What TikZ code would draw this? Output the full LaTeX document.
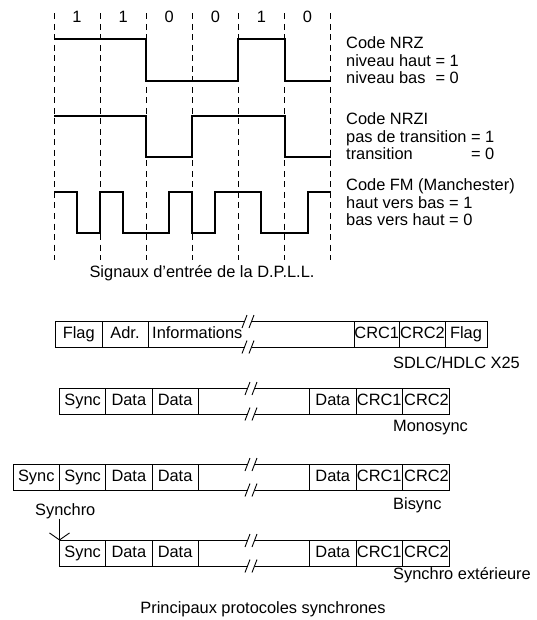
\documentclass[tikz,border=0pt]{standalone}
\usepackage{fontspec}
\setmainfont{Liberation Sans}
\usetikzlibrary{arrows.meta}
\begin{document}
\begin{tikzpicture}[x=1pt,y=-1pt,
  txt/.style={font=\fontsize{16.4}{17.5}\selectfont, inner sep=0pt, anchor=base west},
  ctxt/.style={txt, anchor=base},
  sig/.style={line width=2pt, line join=miter},
  dline/.style={line width=0.9pt, dash pattern=on 6pt off 4.5pt},
  frame/.style={line width=0.9pt},
  pics/brk/.style={code={\draw[frame] (-7,6.5) -- (-2,-6.5) (0,6.5) -- (5,-6.5);}}
]
\useasboundingbox (0,0) rectangle (536,620);

% ---------- timing diagram ----------
\foreach \x in {54,100.1,146.2,192.3,238.4,284.5,330.6}
  \draw[dline] (\x,13.5) -- (\x,260);

\node[ctxt] (b1) at (77.05,22.5) {1};
\node[ctxt] (b2) at (123.15,22.5) {1};
\node[ctxt] (b3) at (169.25,22.5) {0};
\node[ctxt] (b4) at (215.35,22.5) {0};
\node[ctxt] (b5) at (261.45,22.5) {1};
\node[ctxt] (b6) at (307.55,22.5) {0};

\draw[sig] (54,39.5) -- (146.2,39.5) -- (146.2,81) -- (238.4,81) -- (238.4,39.5)
  -- (284.5,39.5) -- (284.5,81) -- (330.6,81);
\draw[sig] (54,116) -- (146.2,116) -- (146.2,157) -- (192.3,157) -- (192.3,116)
  -- (284.5,116) -- (284.5,157) -- (330.6,157);
\draw[sig] (54,192.5) -- (77.05,192.5) -- (77.05,233) -- (100.1,233) -- (100.1,192.5)
  -- (123.15,192.5) -- (123.15,233) -- (169.25,233) -- (169.25,192.5) -- (192.3,192.5)
  -- (192.3,233) -- (215.35,233) -- (215.35,192.5) -- (261.45,192.5) -- (261.45,233)
  -- (307.55,233) -- (307.55,192.5) -- (330.6,192.5);

\node[txt] (nrz1) at (346,49) {Code NRZ};
\node[txt] (nrz2) at (346,66.5) {niveau haut = 1};
\node[txt] (nrz3) at (346,84) {\sbox0{niveau haut = 1}\hbox to \wd0{niveau bas\hfill= 0}};
\node[txt] (nrzi1) at (346,125) {Code NRZI};
\node[txt] (nrzi2) at (346,142.5) {pas de transition = 1};
\node[txt] (nrzi3) at (346,160) {\sbox0{pas de transition = 1}\hbox to \wd0{transition\hfill= 0}};
\node[txt] (fm1) at (346,190.5) {Code FM (Manchester)};
\node[txt] (fm2) at (346,208) {haut vers bas = 1};
\node[txt] (fm3) at (346,225.5) {bas vers haut = 0};

\node[ctxt] (cap1) at (202,277) {Signaux d'entrée de la D.P.L.L.};

% ---------- frame 1 : SDLC/HDLC ----------
\draw[frame] (244.5,321.5) -- (55.5,321.5) -- (55.5,347) -- (244.5,347);
\draw[frame] (251.5,321.5) -- (487,321.5) -- (487,347) -- (251.5,347);
\foreach \x in {102,148,354,399.5,445} \draw[frame] (\x,321.5) -- (\x,347);
\pic at (249,321.5) {brk};
\pic at (249,347) {brk};
\node[ctxt] (f1a) at (78.75,338) {Flag};
\node[ctxt] (f1b) at (125,338) {Adr.};
\node[txt]  (f1c) at (152,338) {Informations};
\node[ctxt] (f1d) at (376.75,338) {CRC1};
\node[ctxt] (f1e) at (422.5,338) {CRC2};
\node[ctxt] (f1f) at (466,338) {Flag};
\node[txt] (l1) at (393,368) {SDLC/HDLC X25};

% ---------- frame 2 : Monosync ----------
\draw[frame] (247.5,388.5) -- (59.5,388.5) -- (59.5,414) -- (247.5,414);
\draw[frame] (254.5,388.5) -- (449,388.5) -- (449,414) -- (254.5,414);
\foreach \x in {105.7,152,198.2,309.5,356,402.5} \draw[frame] (\x,388.5) -- (\x,414);
\pic at (252,388.5) {brk};
\pic at (252,414) {brk};
\node[ctxt] (f2a) at (82.6,405) {Sync};
\node[ctxt] (f2b) at (128.85,405) {Data};
\node[ctxt] (f2c) at (175.1,405) {Data};
\node[ctxt] (f2d) at (332.75,405) {Data};
\node[ctxt] (f2e) at (379.25,405) {CRC1};
\node[ctxt] (f2f) at (426.5,405) {CRC2};
\node[txt] (l2) at (393,431) {Monosync};

% ---------- frame 3 : Bisync ----------
\draw[frame] (247.5,464.5) -- (13,464.5) -- (13,490) -- (247.5,490);
\draw[frame] (254.5,464.5) -- (449,464.5) -- (449,490) -- (254.5,490);
\foreach \x in {59.5,105.7,152,198.2,309.5,356,402.5} \draw[frame] (\x,464.5) -- (\x,490);
\pic at (252,464.5) {brk};
\pic at (252,490) {brk};
\node[ctxt] (f3a) at (36.25,481) {Sync};
\node[ctxt] (f3b) at (82.6,481) {Sync};
\node[ctxt] (f3c) at (128.85,481) {Data};
\node[ctxt] (f3d) at (175.1,481) {Data};
\node[ctxt] (f3e) at (332.75,481) {Data};
\node[ctxt] (f3f) at (379.25,481) {CRC1};
\node[ctxt] (f3g) at (426.5,481) {CRC2};
\node[txt] (l3) at (393,509) {Bisync};

% ---------- frame 4 : Synchro exterieure ----------
\coordinate (f4tl) at (59.5,540.5);
\draw[frame] (247.5,540.5) -- (f4tl) -- (59.5,566) -- (247.5,566);
\draw[frame] (254.5,540.5) -- (449,540.5) -- (449,566) -- (254.5,566);
\foreach \x in {105.7,152,198.2,309.5,356,402.5} \draw[frame] (\x,540.5) -- (\x,566);
\pic at (252,540.5) {brk};
\pic at (252,566) {brk};
\node[ctxt] (f4a) at (82.6,557) {Sync};
\node[ctxt] (f4b) at (128.85,557) {Data};
\node[ctxt] (f4c) at (175.1,557) {Data};
\node[ctxt] (f4d) at (332.75,557) {Data};
\node[ctxt] (f4e) at (379.25,557) {CRC1};
\node[ctxt] (f4f) at (426.5,557) {CRC2};
\node[txt] (l4) at (393,579) {Synchro extérieure};

\node[txt] (synchro) at (35,515) {Synchro};
\draw[frame, -{Straight Barb[length=7pt,width=20pt]}] (synchro.south -| f4tl) -- (f4tl);

\node[ctxt] (cap2) at (263,613) {Principaux protocoles synchrones};
\end{tikzpicture}
\end{document}
